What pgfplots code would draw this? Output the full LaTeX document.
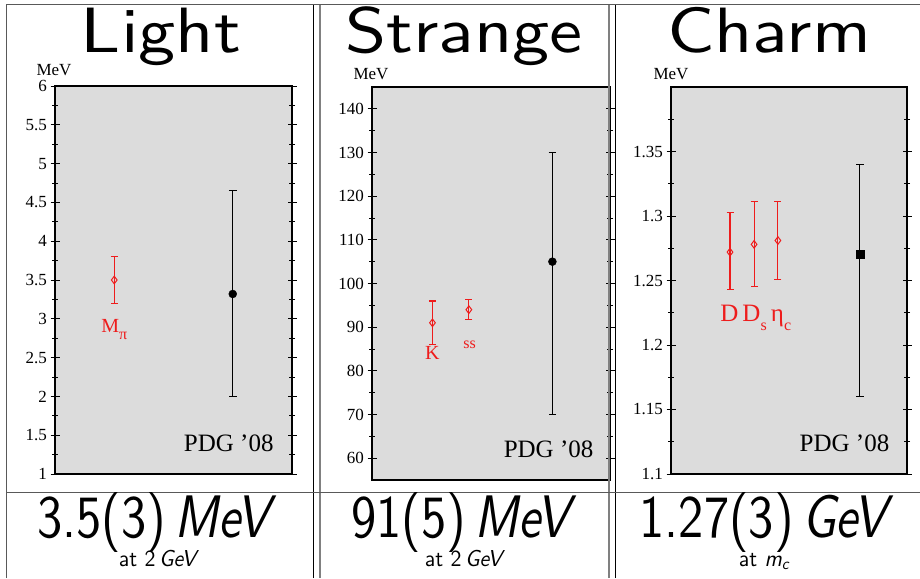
\documentclass[border=0pt]{standalone}
\usepackage{pgfplots}
\pgfplotsset{compat=1.18}
\usepackage{fontspec}
\setmainfont{Liberation Serif}
\newfontfamily\sfx{lmsans10-regular.otf}[ItalicFont=lmsans10-oblique.otf]
\usepackage{graphicx}

\definecolor{panelbg}{RGB}{220,220,220}
\definecolor{ptred}{RGB}{238,28,28}

\newcommand{\lowsub}[1]{\raisebox{-0.34em}{\fontsize{16}{16}\selectfont #1}}

\tikzset{pdglabel/.style={anchor=base east, font=\fontsize{25}{25}\selectfont}}

\pgfplotsset{
  panel/.style={
    scale only axis, anchor=south west,
    axis background/.style={fill=panelbg},
    axis line style={line width=1.1pt},
    xmin=0, xmax=1, xtick=\empty,
    tick align=center,
    major tick length=9pt, minor tick length=6pt,
    every tick/.style={black, line width=0.8pt},
    tick label style={font=\fontsize{17}{17}\selectfont},
    /pgf/number format/assume math mode=true,
    clip=false,
  },
  lat/.style={only marks, ptred, mark=diamond, mark size=3.8pt,
    mark options={line width=1pt, fill=none},
    error bars/y dir=both, error bars/y explicit,
    error bars/error bar style={line width=1.1pt, ptred},
    error bars/error mark options={rotate=90, line width=1.1pt, mark size=3.5pt}},
  pdg/.style={only marks, black, mark size=4pt,
    error bars/y dir=both, error bars/y explicit,
    error bars/error bar style={line width=1.2pt, black},
    error bars/error mark options={rotate=90, line width=1.2pt, mark size=3.8pt}},
}

\begin{document}
\begin{tikzpicture}[x=1pt, y=1pt]
\useasboundingbox (0,0) rectangle (920,578);

% column headings
\node[anchor=base, inner sep=0pt, font=\fontsize{64}{64}\sfx, xscale=1.16] at (161,525) {Light};
\node[anchor=base, inner sep=0pt, font=\fontsize{64}{64}\sfx, xscale=1.16] at (464,525) {Strange};
\node[anchor=base, inner sep=0pt, font=\fontsize{64}{64}\sfx, xscale=1.16] at (769,525) {Charm};

% unit labels above the axes
\node[anchor=base, inner sep=0pt, font=\fontsize{17}{17}\selectfont] at (54,502) {MeV};
\node[anchor=base, inner sep=0pt, font=\fontsize{17}{17}\selectfont] at (371,498) {MeV};
\node[anchor=base, inner sep=0pt, font=\fontsize{17}{17}\selectfont] at (671,498) {MeV};

% ---------------- light quark mass ----------------
\begin{axis}[panel, at={(55pt,104pt)}, width=237pt, height=388pt,
  ymin=1, ymax=6, ytick={1,1.5,2,2.5,3,3.5,4,4.5,5,5.5,6},
  minor ytick={1.25,1.75,2.25,2.75,3.25,3.75,4.25,4.75,5.25,5.75}]
\addplot[lat] table[x=x, y=y, y error plus=ep, y error minus=em] {
x    y    ep   em
0.25 3.5  0.3  0.3
};
\addplot[pdg, mark=*] table[x=x, y=y, y error plus=ep, y error minus=em] {
x    y    ep   em
0.75 3.32 1.33 1.32
};
\node[anchor=base, ptred, font=\fontsize{20}{20}\selectfont] at (axis cs:0.25,2.82) {M\lowsub{π}};
\node[pdglabel] at (rel axis cs:0.937,0.057) {PDG '08};
\end{axis}

% ---------------- strange quark mass ----------------
\begin{axis}[panel, at={(372pt,98pt)}, width=238pt, height=393pt,
  ymin=55, ymax=145, ytick={60,70,80,90,100,110,120,130,140},
  minor ytick={65,75,85,95,105,115,125,135}]
\addplot[lat] table[x=x, y=y, y error plus=ep, y error minus=em] {
x     y    ep   em
0.254 91   5    5
0.407 94   2.3  2.3
};
\addplot[pdg, mark=*] table[x=x, y=y, y error plus=ep, y error minus=em] {
x     y    ep   em
0.758 105  25   35
};
\node[anchor=base, ptred, font=\fontsize{20}{20}\selectfont] at (axis cs:0.254,82.5) {K};
\node[anchor=base, ptred, font=\fontsize{16}{16}\selectfont] at (axis cs:0.41,85.1) {ss};
\node[pdglabel] at (rel axis cs:0.945,0.058) {PDG '08};
\end{axis}

% ---------------- charm quark mass ----------------
\begin{axis}[panel, at={(671pt,104pt)}, width=236pt, height=387pt,
  ymin=1.1, ymax=1.4, ytick={1.1,1.15,1.2,1.25,1.3,1.35},
  minor ytick={1.125,1.175,1.225,1.275,1.325,1.375}]
\addplot[lat] table[x=x, y=y, y error plus=ep, y error minus=em] {
x     y     ep    em
0.25  1.272 0.031 0.029
0.352 1.278 0.033 0.033
0.453 1.281 0.030 0.030
};
\addplot[pdg, mark=square*] table[x=x, y=y, y error plus=ep, y error minus=em] {
x     y     ep    em
0.80  1.270 0.070 0.110
};
\node[anchor=base west, ptred, font=\fontsize{25}{25}\selectfont, inner sep=0pt] at (axis cs:0.208,1.218) {D\,D\lowsub{s}\,η\lowsub{c}};
\node[pdglabel] at (rel axis cs:0.94,0.057) {PDG '08};
\end{axis}

% table rules
\draw[black!65, line width=1pt] (6,573) -- (920,573);
\draw[black!65, line width=1pt] (6,0) -- (6,573);
\draw[black, line width=1pt] (313,0) -- (313,573);
\draw[black!50, line width=1.6pt] (320,0) -- (320,573);
\draw[black!50, line width=1.6pt] (609,0) -- (609,573);
\draw[black, line width=1pt] (615,0) -- (615,573);
\draw[black!65, line width=1pt] (6,85) -- (920,85);

% results
\node[anchor=base, font=\fontsize{60}{60}\sfx, xscale=0.84] at (157,41) {3.5(3)\,\textit{MeV}};
\node[anchor=base, font=\fontsize{60}{60}\sfx, xscale=0.84] at (464,41) {91(5)\,\textit{MeV}};
\node[anchor=base, font=\fontsize{60}{60}\sfx, xscale=0.84] at (767,41) {1.27(3)\,\textit{GeV}};
\node[anchor=base, font=\fontsize{23}{23}\sfx, xscale=0.95] at (159,12) {at 2\,\textit{GeV}};
\node[anchor=base, font=\fontsize{23}{23}\sfx, xscale=0.95] at (465,12) {at 2\,\textit{GeV}};
\node[anchor=base, font=\fontsize{23}{23}\sfx, xscale=0.95] at (764,12) {at \textit{m\textsubscript{c}}};
\end{tikzpicture}
\end{document}
